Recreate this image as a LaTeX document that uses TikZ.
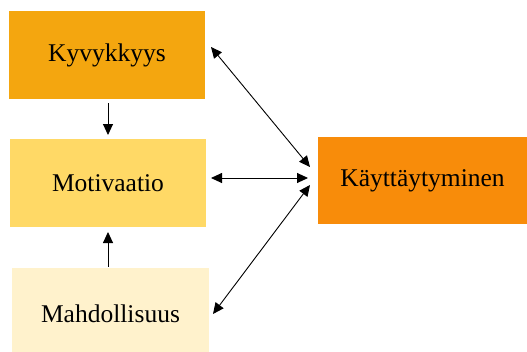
\documentclass[tikz,border=0pt]{standalone}
\usepackage{fontspec}
\setmainfont{Liberation Serif}
\usetikzlibrary{arrows.meta}
\definecolor{abilityc}{HTML}{F4A60F}
\definecolor{motivec}{HTML}{FFD966}
\definecolor{opportc}{HTML}{FFF2CC}
\definecolor{behavc}{HTML}{F88C0A}
\tikzset{
  box/.style={rectangle, inner sep=0pt, outer sep=0pt, font=\fontsize{25.5}{30}\selectfont},
  tip/.style={Triangle[length=11pt,width=10pt]},
  link/.style={line width=0.9pt, -{Triangle[length=11pt,width=10pt]}},
  duallink/.style={line width=0.9pt, {Triangle[length=11pt,width=10pt]}-{Triangle[length=11pt,width=10pt]}},
}
\begin{document}
\begin{tikzpicture}[x=1pt,y=-1pt]
  \clip (0,0) rectangle (527,351);
  \node[box, fill=abilityc, minimum width=196pt, minimum height=88pt] (kyky) at (107,55) {Kyvykkyys};
  \node[box, fill=motivec, minimum width=196pt, minimum height=88pt] (moti) at (108,183) {Motivaatio};
  \node[box, fill=opportc, minimum width=197pt, minimum height=92pt] (mahd) at (110.5,314) {Mahdollisuus};
  \node[box, fill=behavc, minimum width=209pt, minimum height=87pt] (kay) at (422.5,180.5) {Käyttäytyminen};

  % vertical links into the middle box
  \draw[link, shorten <=4pt, shorten >=4pt] (moti.north |- kyky.south) -- (moti.north);
  \draw[link, shorten <=1.5pt, shorten >=5pt] (moti.south |- mahd.north) -- (moti.south);

  % two-way links to the behaviour box
  \draw[duallink] ([xshift=6pt,yshift=8pt]kyky.east) -- ([xshift=-8pt,yshift=13.5pt]kay.west);
  \draw[duallink] ([xshift=5pt,yshift=5pt]moti.east) -- ([xshift=-10pt,yshift=2.5pt]kay.west);
  \draw[duallink] ([xshift=4pt]mahd.east) -- ([xshift=-8pt,yshift=-4.5pt]kay.west);
\end{tikzpicture}
\end{document}
